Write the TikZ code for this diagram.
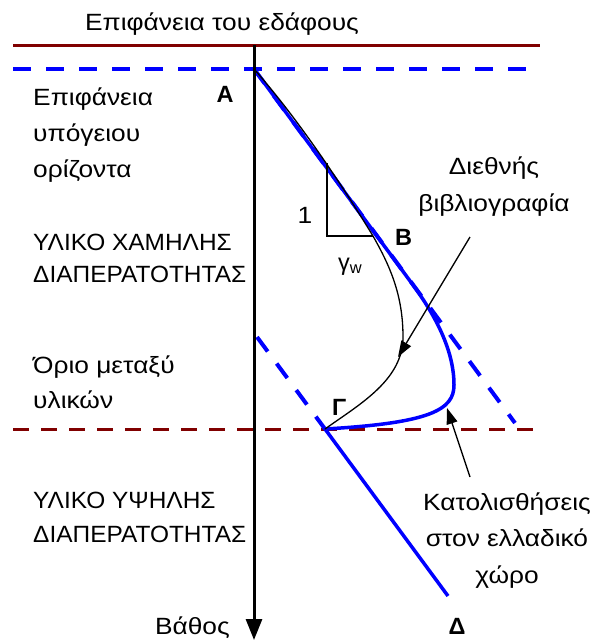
\documentclass[tikz,border=0pt]{standalone}
\usepackage{fontspec}
\setmainfont{Liberation Sans}
\newfontfamily\wideface[FakeStretch=1.12]{Liberation Sans}
\newfontfamily\capsface[FakeStretch=1.04]{Liberation Sans}
\usepackage{xcolor}
\definecolor{soilred}{RGB}{128,0,0}
\definecolor{slipblue}{RGB}{0,0,255}
\usepackage{tikz}
\usetikzlibrary{arrows.meta}
\tikzset{
  soil text/.style={inner sep=0pt, align=left, font=\wideface\fontsize{23.5}{36}\selectfont},
  caps text/.style={inner sep=0pt, align=left, font=\capsface\fontsize{23.5}{32}\selectfont},
  note text/.style={inner sep=0pt, align=center, font=\wideface\fontsize{23.5}{36.5}\selectfont},
  point label/.style={inner sep=0pt, font=\fontsize{23.5}{28}\selectfont\bfseries},
  ground line/.style={soilred, line width=3pt},
  boundary line/.style={soilred, line width=3pt, dash pattern=on 16pt off 12pt},
  water line/.style={slipblue, line width=4pt, dash pattern=on 18pt off 15pt},
  slip line/.style={slipblue, line width=3.5pt},
  lit curve/.style={black, line width=1.3pt},
  depth axis/.style={black, line width=3pt, -{Triangle[length=21pt, width=16pt]}},
  note arrow/.style={black, line width=1.3pt, -{Triangle[length=16pt, width=11pt]}},
}

\begin{document}
\begin{tikzpicture}[x=1pt, y=-1pt]
  \useasboundingbox (0,0) rectangle (598,640);
  % points
  \coordinate (A) at (254,69);
  \coordinate (B) at (373,236);
  \coordinate (G) at (325,429);
  \coordinate (D) at (448,596);
  \coordinate (upEnd) at (515,423);
  \coordinate (loStart) at (257,337);
  \coordinate (bend) at (413,285);
  \coordinate (tipLow) at (454,385);
  \coordinate (tipLit) at (403,337);
  \coordinate (triTop) at (327,163);
  \coordinate (triCorner) at (327,236);
  \coordinate (axTop) at (254,45);
  \coordinate (axBot) at (254,640);
  \coordinate (gsL) at (13,45);
  \coordinate (gsR) at (540,45);
  \coordinate (wtL) at (13,69);
  \coordinate (wtR) at (540,69);
  \coordinate (bdL) at (13,429);
  \coordinate (bdR) at (535,429);
  \coordinate (litFrom) at (470,237);
  \coordinate (litTo) at (398,357);
  \coordinate (grFrom) at (470,477);
  \coordinate (grTo) at (447,408);

  % horizons
  \draw[ground line] (gsL) -- (gsR);
  \draw[boundary line] (bdL) -- (bdR);
  \draw[water line] (wtL) -- (wtR);

  % blue lines and curve
  \draw[water line] (A) -- (upEnd);
  \draw[water line] (loStart) -- (G);
  \draw[slip line] (G) -- (D);
  \draw[slip line] (A) -- (bend) .. controls (435,315) and (454,350) .. (tipLow)
    .. controls (454,410) and (430,423) .. (G);

  % black curve and slope triangle
  \draw[lit curve] (A) .. controls (300,121) and (345,190) .. (B)
    .. controls (390,266) and (403,295) .. (tipLit)
    .. controls (403,380) and (360,404) .. (G);
  \draw[black, line width=1.2pt] (triTop) -- (triCorner) -- (B);

  \draw[depth axis] (axTop) -- (axBot);

  % labels (multi-line nodes sit on the baseline of their last line)
  \node[soil text, anchor=base] (ground) at (222,30) {Επιφάνεια του εδάφους};
  \node[soil text, anchor=base west] (horizon) at (33,177) {Επιφάνεια\\υπόγειου\\ορίζοντα};
  \node[caps text, anchor=base west] (lowperm) at (33,282) {ΥΛΙΚΟ ΧΑΜΗΛΗΣ\\ΔΙΑΠΕΡΑΤΟΤΗΤΑΣ};
  \node[soil text, anchor=base west] (limit) at (33,408) {Όριο μεταξύ\\[-1pt]υλικών};
  \node[caps text, anchor=base west] (highperm) at (33,542) {ΥΛΙΚΟ ΥΨΗΛΗΣ\\[2pt]ΔΙΑΠΕΡΑΤΟΤΗΤΑΣ};
  \node[soil text, anchor=base east] (depth) at (230,634) {Βάθος};
  \node[point label, anchor=base] (lA) at (225,102) {Α};
  \node[point label, anchor=base west] (lB) at (395,245) {Β};
  \node[point label, anchor=base west] (lG) at (332,415) {Γ};
  \node[point label, anchor=base] (lD) at (457,634) {Δ};
  \node[soil text, anchor=base] (one) at (305,223) {1};
  \node[point label, font=\fontsize{23.5}{28}\selectfont, anchor=base west] (gw) at (338,270) {γ\textsubscript{w}};
  \node[note text, anchor=base] (lit) at (494,211) {Διεθνής\\βιβλιογραφία};
  \node[note text, anchor=base] (greek) at (507,583) {Κατολισθήσεις\\στον ελλαδικό\\χώρο};

  \draw[note arrow] (litFrom) -- (litTo);
  \draw[note arrow] (grFrom) -- (grTo);
\end{tikzpicture}
\end{document}
